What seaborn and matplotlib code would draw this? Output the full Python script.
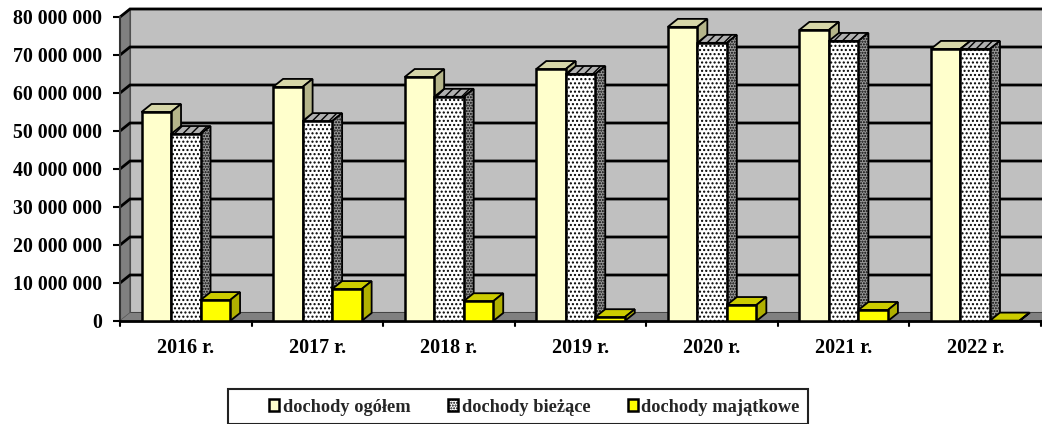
import matplotlib
matplotlib.use("Agg")
import matplotlib.pyplot as plt
import pandas as pd
import seaborn as sns
from matplotlib.patches import Polygon, Rectangle

years = ["2016 r.", "2017 r.", "2018 r.", "2019 r.", "2020 r.", "2021 r.", "2022 r."]
series_names = ["dochody ogółem", "dochody bieżące", "dochody majątkowe"]
ogolem = [55.0e6, 61.6e6, 64.2e6, 66.3e6, 77.4e6, 76.6e6, 71.6e6]
biezace = [49.2e6, 52.6e6, 59.0e6, 65.0e6, 73.2e6, 73.7e6, 71.6e6]
majatkowe = [5.5e6, 8.4e6, 5.2e6, 1.0e6, 4.2e6, 2.9e6, 0.1e6]
y_ticks = [0, 10e6, 20e6, 30e6, 40e6, 50e6, 60e6, 70e6, 80e6]

W, H = 1042, 424
LEFT, RIGHT, BASE, TOP = 120, 1041, 321, 17
DEPTH_X, DEPTH_Y = 10, 8  # fake 3d depth, pixels

sns.set_theme(style="white")
plt.rcParams["font.family"] = ["Liberation Serif", "DejaVu Serif"]
plt.rcParams["font.weight"] = "bold"
plt.rcParams["hatch.linewidth"] = 1.0

fig = plt.figure(figsize=(W / 100, H / 100), dpi=100)
ax = fig.add_axes([LEFT / W, 1 - BASE / H, (RIGHT - LEFT) / W, (BASE - TOP) / H])

df = pd.DataFrame({
    "year": years * 3,
    "value": ogolem + biezace + majatkowe,
    "series": [s for s in series_names for _ in years],
})
sns.barplot(
    data=df, x="year", y="value", hue="series", hue_order=series_names,
    palette=["#FFFFCC", "#FFFFFF", "#FFFF00"], width=0.673, gap=0,
    edgecolor="black", linewidth=1.8, saturation=1, err_kws={"linewidth": 0}, ax=ax,
)
ax.set_xlim(-0.5, 6.5)
ax.set_ylim(0, 80e6)
ax.set_xlabel("")
ax.set_ylabel("")

# depth in data units
dx = DEPTH_X * 7 / (RIGHT - LEFT)
dy = DEPTH_Y * 80e6 / (BASE - TOP)
x0, x1 = ax.get_xlim()

# walls and floor
ax.patch.set_visible(False)
wall = [(x0 + dx, dy), (x1 + 2 * dx, dy), (x1 + 2 * dx, 80e6 + dy), (x0 + dx, 80e6 + dy)]
ax.add_patch(Polygon(wall, fc="#C0C0C0", ec="#444444", lw=1.5, zorder=0.5, clip_on=False))
side = [(x0, 0), (x0 + dx, dy), (x0 + dx, 80e6 + dy), (x0, 80e6)]
ax.add_patch(Polygon(side, fc="#808080", ec="#555555", lw=1, zorder=0.6, clip_on=False))
floor = [(x0, 0), (x0 + dx, dy), (x1 + 2 * dx, dy), (x1 + 2 * dx, 0)]
ax.add_patch(Polygon(floor, fc="#808080", ec="none", zorder=0.6, clip_on=False))

# gridlines run along the back wall and down the left wall
for v in y_ticks[1:]:
    ax.plot([x0, x0 + dx, x1 + 2 * dx], [v, v + dy, v + dy], color="black", lw=2,
            zorder=0.8, clip_on=False, solid_joinstyle="miter")

face_styles = [
    {"top": "#D6D6A8", "side": "#B5B58A", "hatch": None},
    {"top": "#B0B0B0", "side": "#999999", "hatch": "......"},
    {"top": "#CCCC00", "side": "#B0B000", "hatch": None},
]
for i, (cont, st) in enumerate(zip(ax.containers, face_styles)):
    for bar in cont:
        bar.set_zorder(3 + i)
        bx, bw, h = bar.get_x(), bar.get_width(), bar.get_height()
        top = [(bx, h), (bx + dx, h + dy), (bx + bw + dx, h + dy), (bx + bw, h)]
        right = [(bx + bw, 0), (bx + bw + dx, dy), (bx + bw + dx, h + dy), (bx + bw, h)]
        ax.add_patch(Polygon(top, fc=st["top"], ec="black", lw=1.3, zorder=3 + i - 0.1,
                             hatch="////" if st["hatch"] else None, clip_on=False))
        ax.add_patch(Polygon(right, fc=st["side"], ec="black", lw=1.3, zorder=3 + i - 0.1,
                             hatch=st["hatch"], clip_on=False))
for bar in ax.containers[1]:
    bar.set_hatch("....")

# axes
sns.despine(ax=ax, top=True, right=True)
ax.spines["left"].set_color("#333333")
ax.spines["left"].set_linewidth(1.5)
ax.spines["left"].set_zorder(1)
ax.spines["bottom"].set_color("black")
ax.spines["bottom"].set_linewidth(2)
ax.spines["bottom"].set_zorder(2.5)
ax.set_yticks(y_ticks)
ax.set_yticklabels([f"{int(v):,}".replace(",", " ") for v in y_ticks])
ax.tick_params(axis="y", length=5, width=1.5, color="black", pad=8, labelsize=14.3, left=True)
ax.set_xticks(range(len(years)))
ax.set_xticklabels(years)
ax.tick_params(axis="x", length=0, pad=12, labelsize=14.5)
for t in ax.get_yticklabels() + ax.get_xticklabels():
    t.set_fontweight("bold")
    t.set_color("black")
for k in range(len(years) + 1):
    ax.plot([k - 0.5, k - 0.5], [0, -5 * 80e6 / (BASE - TOP)], color="black", lw=1.5,
            clip_on=False, zorder=2.5)

# legend box is wider than its entries
fig.add_artist(Rectangle((227.5 / W, 1 - 424 / H), 580 / W, 35 / H, transform=fig.transFigure,
                         fc="white", ec="#222222", lw=1.5))
handles, labels = ax.get_legend_handles_labels()
ax.get_legend().remove()
handles[1].set_hatch("......")
leg = fig.legend(
    handles, labels, ncol=3, frameon=False, loc="center left",
    bbox_to_anchor=(260 / W, 1 - 407 / H), prop={"size": 13.2, "weight": "bold"},
    handlelength=0.55, handleheight=0.6, handletextpad=0.18, columnspacing=2.07, borderpad=0,
)
leg.set_zorder(5)

fig.savefig("out.png", dpi=100)
